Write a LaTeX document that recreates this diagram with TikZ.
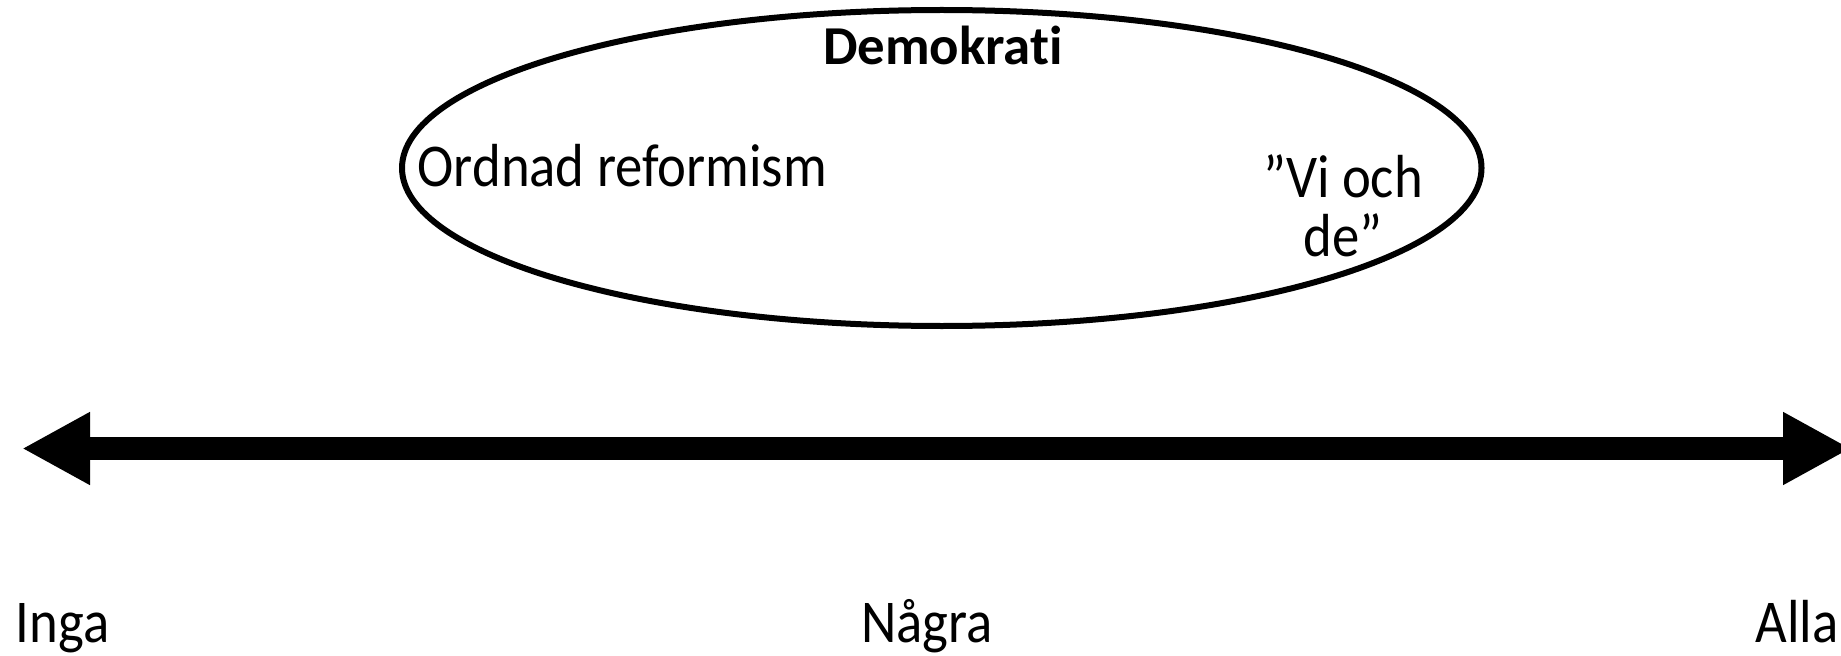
\documentclass[tikz,border=0pt]{standalone}
\usepackage{fontspec}
\setmainfont{Carlito}[FakeStretch=0.9, Ligatures=NoCommon]
\newfontfamily\rubrikfont{Carlito}[Ligatures=NoCommon]
\usepackage{tikz}
\usetikzlibrary{positioning,arrows.meta,shapes.geometric}

\begin{document}
\begin{tikzpicture}[
  x=0.1mm, y=-0.1mm,
  txt/.style={inner sep=0pt, font=\fontsize{17.3}{16.8}\selectfont, anchor=base},
  rubrik/.style={inner sep=0pt, font=\rubrikfont\bfseries\fontsize{15.6}{16}\selectfont, anchor=base},
  bubbla/.style={draw, ellipse, line width=0.6mm, inner sep=0pt,
                 minimum width=107.95mm, minimum height=31.6mm},
  axel/.style={{Triangle[length=6.8mm,width=6.8mm]}-{Triangle[length=6.8mm,width=6.8mm]},
               line width=2.3mm}]

\useasboundingbox (0,0) rectangle (1841,655);

\node[bubbla] (demo) at (941.75,168) {};
\node[rubrik] (demorubrik) at (943,65) {Demokrati};
\node[txt, anchor=base west] (ordnad) at (417,187) {Ordnad reformism};
\node[txt, align=center, anchor=north] (vioch) at (1343,154) {”Vi och\\de”};

\coordinate (vanster) at (22,448.5);
\coordinate (hoger) at (1851,448.5);
\draw[axel] (vanster) -- (hoger);

\node[txt, anchor=base west] (inga) at (15,642) {Inga};
\node[txt] (nagra) at (927,642) {Några};
\node[txt, anchor=base east] (alla) at (1839,642) {Alla};
\end{tikzpicture}
\end{document}
